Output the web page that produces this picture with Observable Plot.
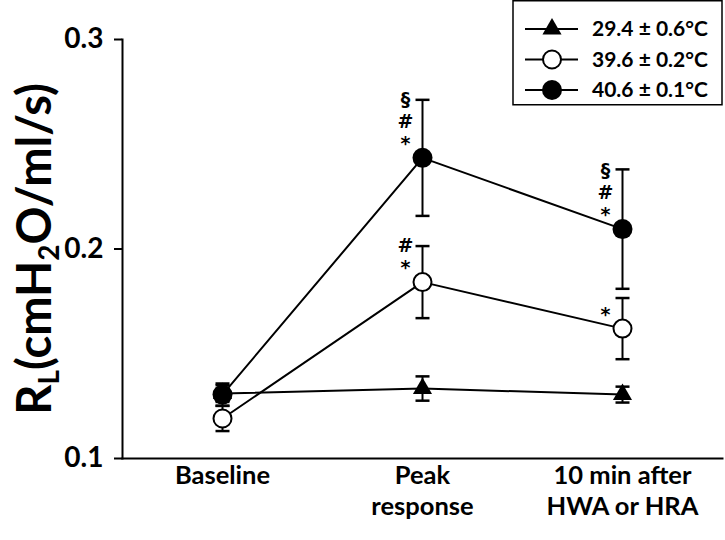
<!DOCTYPE html>
<html><head><meta charset="utf-8">
<script src="https://cdn.jsdelivr.net/npm/d3@7"></script>
<script src="https://cdn.jsdelivr.net/npm/@observablehq/plot@0.6"></script>
<style>
body{margin:0;background:#fff}
#chart{position:relative;width:725px;height:540px}
</style>
</head><body><div id="chart"></div>
<script>
const categories = ["Baseline", "Peak response", "10 min after HWA or HRA"];
const tickLabels = ["Baseline", "Peak\nresponse", "10 min after\nHWA or HRA"];
const seriesNames = ["29.4 ± 0.6°C", "39.6 ± 0.2°C", "40.6 ± 0.1°C"];
const yTicks = [0.1, 0.2, 0.3];
// means and SE per series (Baseline, Peak, 10 min)
const meanT = [0.131, 0.1334, 0.1305];
const errT  = [0.004, 0.0058, 0.0038];
const meanO = [0.1191, 0.1842, 0.162];
const errO  = [0.006, 0.0172, 0.0146];
const meanF = [0.1305, 0.2435, 0.2095];
const errF  = [0.0053, 0.0277, 0.0285];
// significance marks: series index, category index, label
const annSeries = [2, 1, 2, 1];
const annCat    = [1, 1, 2, 2];
const annText   = ["§\n#\n*", "#\n*", "§\n#\n*", "*"];

const means = [meanT, meanO, meanF];
const errs = [errT, errO, errF];
const rows = [];
seriesNames.forEach((s, si) => categories.forEach((c, ci) => rows.push({series: s, si, cat: c, mean: means[si][ci], err: errs[si][ci]})));
const ann = annText.map((t, k) => ({cat: categories[annCat[k]], mean: means[annSeries[k]][annCat[k]], label: t}));

const cap = {draw(ctx, size) { const r = Math.sqrt(size / Math.PI); ctx.moveTo(-r, 0); ctx.lineTo(r, 0); }};
const F = "Lato";

const plot = Plot.plot({
  width: 725, height: 540,
  marginLeft: 122, marginRight: 3, marginTop: 39, marginBottom: 82,
  style: {fontFamily: F, fontWeight: "bold", color: "#000", background: "#fff"},
  x: {type: "point", domain: categories, padding: 0.5},
  y: {domain: [0.1, 0.3]},
  marks: [
    Plot.frame({anchor: "left", stroke: "#000", strokeWidth: 2}),
    Plot.frame({anchor: "bottom", stroke: "#000", strokeWidth: 2}),
    Plot.axisY({ticks: yTicks, tickFormat: d3.format(".1f"), tickSize: 8, tickPadding: 11, strokeWidth: 2, fontSize: 28, fontWeight: "bold", label: null}),
    Plot.axisX({tickFormat: (d, i) => tickLabels[categories.indexOf(d)], tickSize: 0, tickPadding: 4, fontSize: 25.5, fontWeight: "bold", lineHeight: 1.2, label: null}),
    Plot.line(rows, {x: "cat", y: "mean", z: "series", stroke: "#000", strokeWidth: 2}),
    Plot.ruleX(rows, {x: "cat", y1: d => d.mean - d.err, y2: d => d.mean + d.err, stroke: "#000", strokeWidth: 2}),
    Plot.dot(rows, {x: "cat", y: d => d.mean - d.err, symbol: cap, r: 7, stroke: "#000", strokeWidth: 2.5}),
    Plot.dot(rows, {x: "cat", y: d => d.mean + d.err, symbol: cap, r: 7, stroke: "#000", strokeWidth: 2.5}),
    Plot.dot(rows.filter(d => d.si === 0), {x: "cat", y: "mean", symbol: "triangle", r: 7.1, fill: "#000", stroke: null}),
    Plot.dot(rows.filter(d => d.si === 1), {x: "cat", y: "mean", symbol: "circle", r: 9, fill: "#fff", stroke: "#000", strokeWidth: 2}),
    Plot.dot(rows.filter(d => d.si === 2), {x: "cat", y: "mean", symbol: "circle", r: 10, fill: "#000", stroke: null}),
    Plot.text(ann, {x: "cat", y: "mean", text: "label", lineAnchor: "bottom", dx: -17, dy: -8, fontSize: 19, fontFamily: "DejaVu Sans", fontWeight: "bold", lineHeight: 1.15, fill: "#000"})
  ]
});
document.getElementById("chart").appendChild(plot);

const svg = d3.select(plot);
// y-axis title with subscripts
const yl = svg.append("text").attr("transform", "translate(51,249) rotate(-90)")
  .attr("text-anchor", "middle").attr("font-size", 47).attr("font-weight", "bold").attr("font-family", F);
yl.append("tspan").text("R");
yl.append("tspan").attr("font-size", 28).attr("dy", 8).text("L");
yl.append("tspan").attr("dy", -8).text("(cmH");
yl.append("tspan").attr("font-size", 28).attr("dy", 8).text("2");
yl.append("tspan").attr("dy", -8).text("O/ml/s)");

// legend
const lg = svg.append("g").attr("transform", "translate(513,0)");
lg.append("rect").attr("x", 0).attr("y", 0.75).attr("width", 209).attr("height", 104).attr("fill", "#fff").attr("stroke", "#000").attr("stroke-width", 1.5);
const symDefs = [
  {type: d3.symbolTriangle, size: Math.PI * 7.1 * 7.1, fill: "#000", stroke: "none"},
  {type: d3.symbolCircle, size: Math.PI * 81, fill: "#fff", stroke: "#000"},
  {type: d3.symbolCircle, size: Math.PI * 100, fill: "#000", stroke: "none"}
];
seriesNames.forEach((s, i) => {
  const y = 29 + i * 30.5;
  lg.append("line").attr("x1", 12).attr("x2", 65).attr("y1", y).attr("y2", y).attr("stroke", "#000").attr("stroke-width", 2);
  lg.append("path").attr("transform", `translate(39,${y})`).attr("d", d3.symbol(symDefs[i].type, symDefs[i].size)())
    .attr("fill", symDefs[i].fill).attr("stroke", symDefs[i].stroke).attr("stroke-width", 2);
  lg.append("text").attr("x", 79).attr("y", y).attr("dy", "0.35em").attr("text-anchor", "start").attr("font-size", 21).attr("font-weight", "bold").attr("font-family", F).text(s);
});
</script>
</body></html>
